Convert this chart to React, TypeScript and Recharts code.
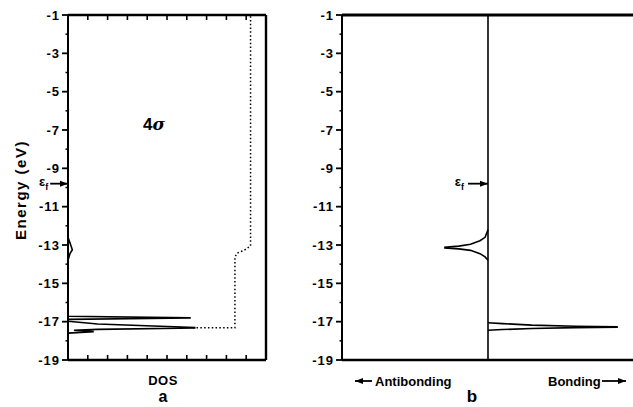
import React from 'react';
import { LineChart, Line, XAxis, YAxis, ReferenceLine } from 'recharts';

// ---- data ----
const energyTicks = [-19, -18, -17, -16, -15, -14, -13, -12, -11, -10, -9, -8, -7, -6, -5, -4, -3, -2, -1];
const majorEnergyTicks = [-19, -17, -15, -13, -11, -9, -7, -5, -3, -1];
const dosTicks = [0, 1, 2, 3, 4, 5, 6, 7, 8, 9, 10];
const fermiLevel = -9.8;

// panel a: projected DOS (solid)
const dosCurve = [
  { x: 0, e: -1 },
  { x: 0, e: -12.6 },
  { x: 0.12, e: -12.95 },
  { x: 0.22, e: -13.25 },
  { x: 0.1, e: -13.45 },
  { x: 0, e: -13.8 },
  { x: 0, e: -16.72 },
  { x: 6.16, e: -16.8 },
  { x: 6.16, e: -16.81 },
  { x: 0, e: -16.88 },
  { x: 0, e: -16.98 },
  { x: 1.5, e: -17.12 },
  { x: 6.4, e: -17.3 },
  { x: 6.4, e: -17.33 },
  { x: 1.5, e: -17.4 },
  { x: 0.3, e: -17.45 },
  { x: 1.3, e: -17.52 },
  { x: 0, e: -17.6 },
  { x: 0, e: -19 },
];

// panel a: integrated DOS (dotted)
const integratedDos = [
  { x: 6.3, e: -17.32 },
  { x: 8.43, e: -17.32 },
  { x: 8.43, e: -13.62 },
  { x: 8.55, e: -13.42 },
  { x: 8.9, e: -13.27 },
  { x: 9.22, e: -13.05 },
  { x: 9.22, e: -1 },
];

// panel b: COOP
const coopAntibonding = [
  { x: 0, e: -12.2 },
  { x: -0.02, e: -12.6 },
  { x: -0.055, e: -12.78 },
  { x: -0.12, e: -12.96 },
  { x: -0.2, e: -13.06 },
  { x: -0.295, e: -13.12 },
  { x: -0.295, e: -13.16 },
  { x: -0.2, e: -13.2 },
  { x: -0.12, e: -13.28 },
  { x: -0.055, e: -13.45 },
  { x: -0.02, e: -13.62 },
  { x: 0, e: -13.8 },
];
const coopBonding = [
  { x: 0, e: -17.06 },
  { x: 0.1, e: -17.1 },
  { x: 0.3, e: -17.18 },
  { x: 0.6, e: -17.24 },
  { x: 0.884, e: -17.27 },
  { x: 0.884, e: -17.29 },
  { x: 0.6, e: -17.31 },
  { x: 0.3, e: -17.36 },
  { x: 0.1, e: -17.41 },
  { x: 0, e: -17.45 },
];

const FONT = '"Liberation Sans", Arial, Helvetica, sans-serif';
const INK = '#000';

const YTick = (props: any) => {
  const { x, y, payload } = props;
  const v = payload.value;
  const major = majorEnergyTicks.includes(v);
  return (
    <g>
      <line x1={x} x2={x - (major ? 6 : 2.5)} y1={y} y2={y} stroke={INK} strokeWidth={major ? 1.8 : 1.5} />
      {major && (
        <text x={x - 8} y={y} dy={4.5} textAnchor="end" fontFamily={FONT} fontWeight="bold" fontSize={13} letterSpacing={1} fill={INK}>
          {v}
        </text>
      )}
    </g>
  );
};

const makeInwardTick = (dir: number) => (props: any) => {
  const { x, y, payload } = props;
  if (payload.value === 0 || payload.value === 10) return <g />;
  return <line x1={x} x2={x} y1={y} y2={y + dir * 5} stroke={INK} strokeWidth={1.6} />;
};
const BottomTick = makeInwardTick(-1);
const TopTick = makeInwardTick(1);

const fermiShape = (labelGap: number) => (props: any) => {
  const { x1, y1, x2, y2 } = props;
  const xa = Math.min(x1, x2);
  const xb = Math.max(x1, x2);
  const y = (y1 + y2) / 2;
  return (
    <g>
      <line x1={xa} x2={xb} y1={y} y2={y} stroke={INK} strokeWidth={1.8} />
      <polygon points={`${xb},${y} ${xb - 8},${y - 3} ${xb - 8},${y + 3}`} fill={INK} />
      <text x={xa - labelGap} y={y} dy={2} textAnchor="end" fontFamily={FONT} fontWeight="bold" fontSize={13} fill={INK}>
        ε<tspan fontSize={9} dy={4}>f</tspan>
      </text>
    </g>
  );
};

const Arrow = ({ x1, x2, y }: { x1: number; x2: number; y: number }) => {
  const dir = x2 > x1 ? 1 : -1;
  return (
    <g>
      <line x1={x1} x2={x2} y1={y} y2={y} stroke={INK} strokeWidth={1.8} />
      <polygon points={`${x2},${y} ${x2 - dir * 8},${y - 3} ${x2 - dir * 8},${y + 3}`} fill={INK} />
    </g>
  );
};

export default function App() {
  return (
    <div style={{ position: 'absolute', left: 0, top: 0, width: 633, height: 407, overflow: 'hidden', background: '#fff' }}>
      <div style={{ position: 'absolute', left: 0, top: 0 }}>
        <LineChart width={290} height={407} margin={{ top: 14, right: 24, bottom: 46, left: 38 }}>
          <XAxis
            xAxisId={0}
            type="number"
            dataKey="x"
            domain={[0, 10]}
            ticks={dosTicks}
            allowDataOverflow
            height={1}
            tickSize={0}
            tickMargin={0}
            tickLine={false}
            tick={BottomTick}
            stroke={INK}
            axisLine={{ stroke: INK, strokeWidth: 2.6 }}
          />
          <XAxis
            xAxisId="top"
            orientation="top"
            type="number"
            dataKey="x"
            domain={[0, 10]}
            ticks={dosTicks}
            allowDataOverflow
            height={1}
            tickSize={0}
            tickMargin={0}
            tickLine={false}
            tick={TopTick}
            stroke={INK}
            axisLine={{ stroke: INK, strokeWidth: 2.6 }}
          />
          <YAxis
            type="number"
            domain={[-19, -1]}
            ticks={energyTicks}
            interval={0}
            allowDataOverflow
            width={30}
            tickSize={0}
            tickMargin={0}
            tickLine={false}
            tick={YTick}
            stroke={INK}
            axisLine={{ stroke: INK, strokeWidth: 2 }}
          />
          <ReferenceLine x={10} stroke={INK} strokeWidth={2.4} ifOverflow="visible" />
          <Line data={dosCurve} dataKey="e" type="linear" dot={false} stroke={INK} strokeWidth={1.6} isAnimationActive={false} />
          <Line
            data={integratedDos}
            dataKey="e"
            type="linear"
            dot={false}
            stroke={INK}
            strokeWidth={1.5}
            strokeDasharray="1.5 2.3"
            isAnimationActive={false}
          />
          <ReferenceLine
            segment={[{ x: -0.9, y: fermiLevel }, { x: 0, y: fermiLevel }]}
            ifOverflow="visible"
            shape={fermiShape(2)}
          />
          <text x={20} y={190} transform="rotate(-90, 20, 190)" textAnchor="middle" dominantBaseline="central" fontFamily={FONT} fontWeight="bold" fontSize={15} letterSpacing={1.5} fill={INK}>
            Energy (eV)
          </text>
          <text x={143} y={130} fontFamily={FONT} fontWeight="bold" fontSize={17} fill={INK}>
            4<tspan fontStyle="italic" fontFamily='"DejaVu Serif", serif'>σ</tspan>
          </text>
          <text x={163} y={385} textAnchor="middle" fontFamily={FONT} fontWeight="bold" fontSize={13} letterSpacing={0.5} fill={INK}>
            DOS
          </text>
          <text x={163} y={402} textAnchor="middle" fontFamily={FONT} fontWeight="bold" fontSize={16} fill={INK}>
            a
          </text>
        </LineChart>
      </div>
      <div style={{ position: 'absolute', left: 300, top: 0 }}>
        <LineChart width={336} height={407} margin={{ top: 14, right: 2, bottom: 46, left: 12 }}>
          <XAxis
            xAxisId={0}
            type="number"
            dataKey="x"
            domain={[-1, 1]}
            allowDataOverflow
            height={1}
            tick={false}
            tickLine={false}
            stroke={INK}
            axisLine={{ stroke: INK, strokeWidth: 2.6 }}
          />
          <XAxis
            xAxisId="top"
            orientation="top"
            type="number"
            dataKey="x"
            domain={[-1, 1]}
            allowDataOverflow
            height={1}
            tick={false}
            tickLine={false}
            stroke={INK}
            axisLine={{ stroke: INK, strokeWidth: 3 }}
          />
          <YAxis
            type="number"
            domain={[-19, -1]}
            ticks={energyTicks}
            interval={0}
            allowDataOverflow
            width={30}
            tickSize={0}
            tickMargin={0}
            tickLine={false}
            tick={YTick}
            stroke={INK}
            axisLine={{ stroke: INK, strokeWidth: 2 }}
          />
          <ReferenceLine x={0} stroke={INK} strokeWidth={1.6} />
          <Line data={coopAntibonding} dataKey="e" type="linear" dot={false} stroke={INK} strokeWidth={1.6} isAnimationActive={false} />
          <Line data={coopBonding} dataKey="e" type="linear" dot={false} stroke={INK} strokeWidth={1.6} isAnimationActive={false} />
          <ReferenceLine
            segment={[{ x: -0.137, y: fermiLevel }, { x: 0, y: fermiLevel }]}
            ifOverflow="visible"
            shape={fermiShape(4)}
          />
          <Arrow x1={72} x2={55} y={381} />
          <text x={75} y={386} fontFamily={FONT} fontWeight="bold" fontSize={13} fill={INK}>
            Antibonding
          </text>
          <text x={248} y={386} fontFamily={FONT} fontWeight="bold" fontSize={13} fill={INK}>
            Bonding
          </text>
          <Arrow x1={302} x2={326} y={381} />
          <text x={172} y={402} textAnchor="middle" fontFamily={FONT} fontWeight="bold" fontSize={17} fill={INK}>
            b
          </text>
        </LineChart>
      </div>
    </div>
  );
}
